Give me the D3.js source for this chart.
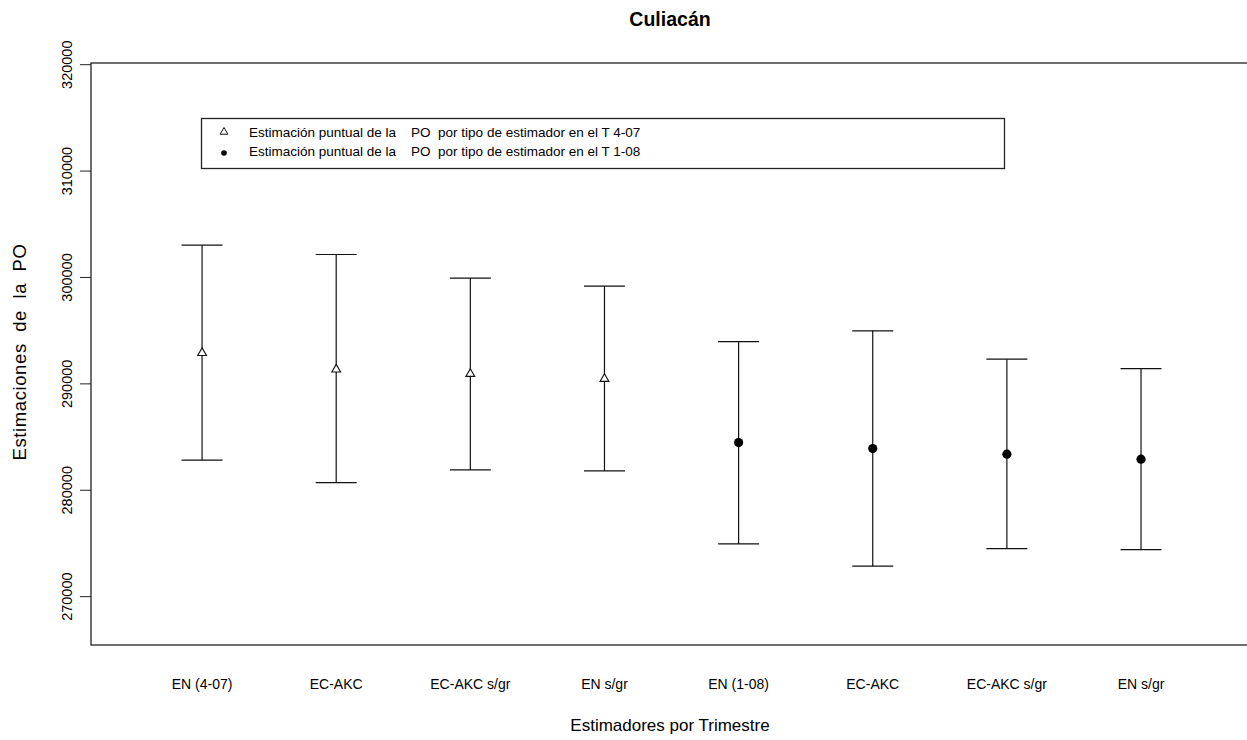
<!DOCTYPE html>
<html>
<head>
<meta charset="utf-8">
<script src="https://cdn.jsdelivr.net/npm/d3@7"></script>
<style>
  body { margin: 0; background: #fff; }
  svg { display: block; }
  text { font-family: "Liberation Sans", Arial, sans-serif; fill: #000; }
  .narrow { font-family: "Liberation Sans Narrow", "Arial Narrow", "Liberation Sans", sans-serif; }
</style>
</head>
<body>
<div id="chart"></div>
<script>
// estimators per quarter
var categories = ['EN (4-07)', 'EC-AKC', 'EC-AKC s/gr', 'EN s/gr', 'EN (1-08)', 'EC-AKC', 'EC-AKC s/gr', 'EN s/gr'];
var quarter = ['4-07', '4-07', '4-07', '4-07', '1-08', '1-08', '1-08', '1-08'];
var estimate = [292950, 291400, 290990, 290520, 284480, 283920, 283390, 282920];
var upper = [303040, 302160, 299940, 299190, 293980, 294990, 292320, 291440];
var lower = [282830, 280720, 281910, 281820, 274960, 272860, 274510, 274420];
var yTicks = [270000, 280000, 290000, 300000, 310000, 320000];
var legendLabels = ['Estimación puntual de la    PO  por tipo de estimador en el T 4-07',
                    'Estimación puntual de la    PO  por tipo de estimador en el T 1-08'];

var W = 1247, H = 740;
var plotL = 91, plotR = 1249, plotT = 63, plotB = 645;

var svg = d3.select('#chart').append('svg')
    .attr('width', W)
    .attr('height', H);

var x = d3.scaleLinear().domain([-0.828, 7.805]).range([plotL, plotR]);
var y = d3.scaleLinear().domain([265455, 320160]).range([plotB, plotT]);

var data = categories.map(function(c, i) {
    return {cat: c, q: quarter[i], est: estimate[i], hi: upper[i], lo: lower[i], i: i};
});

// box
svg.append('rect')
    .attr('x', plotL).attr('y', plotT)
    .attr('width', plotR - plotL).attr('height', plotB - plotT)
    .attr('fill', 'none').attr('stroke', '#222').attr('stroke-width', 1.3);

// y axis
var yAxis = d3.axisLeft(y).tickValues(yTicks).tickSize(11).tickFormat(d3.format('d'));
var ya = svg.append('g').attr('transform', 'translate(' + plotL + ',0)').call(yAxis);
ya.select('.domain').remove();
ya.selectAll('line').attr('stroke', '#222');
ya.selectAll('.tick').attr('transform', null);
ya.selectAll('.tick line').attr('y1', function(d) { return y(d); }).attr('y2', function(d) { return y(d); });
ya.selectAll('text')
    .attr('font-size', 14.5)
    .attr('fill', '#222')
    .attr('transform', function(d) { return 'translate(-24,' + y(d) + ') rotate(-90)'; })
    .attr('x', 0).attr('y', 0).attr('dy', '0.35em')
    .attr('text-anchor', 'middle');

// x labels (no ticks)
svg.selectAll('.xlab').data(data).enter().append('text')
    .attr('class', 'xlab narrow')
    .attr('x', function(d) { return x(d.i); })
    .attr('y', 689)
    .attr('text-anchor', 'middle')
    .attr('font-size', 14)
    .text(function(d) { return d.cat; });

// error bars
var bars = svg.append('g').selectAll('g').data(data).enter().append('g');
bars.append('line')
    .attr('x1', function(d) { return x(d.i); }).attr('x2', function(d) { return x(d.i); })
    .attr('y1', function(d) { return y(d.hi); }).attr('y2', function(d) { return y(d.lo); })
    .attr('stroke', '#111').attr('stroke-width', 1.2);
['hi', 'lo'].forEach(function(k) {
    bars.append('line')
        .attr('x1', function(d) { return x(d.i) - 20.5; }).attr('x2', function(d) { return x(d.i) + 20.5; })
        .attr('y1', function(d) { return y(d[k]); }).attr('y2', function(d) { return y(d[k]); })
        .attr('stroke', '#111').attr('stroke-width', 1.2);
});

var tri = d3.symbol().type(d3.symbolTriangle).size(34);
bars.filter(function(d) { return d.q == '4-07'; }).append('path')
    .attr('d', tri)
    .attr('transform', function(d) { return 'translate(' + x(d.i) + ',' + (y(d.est) + 0.5) + ')'; })
    .attr('fill', '#fff').attr('stroke', '#111').attr('stroke-width', 1.1);
bars.filter(function(d) { return d.q == '1-08'; }).append('circle')
    .attr('cx', function(d) { return x(d.i); })
    .attr('cy', function(d) { return y(d.est); })
    .attr('r', 4.6)
    .attr('fill', '#000');

// legend
var lg = svg.append('g');
lg.append('rect')
    .attr('x', 201.5).attr('y', 118.5).attr('width', 803).attr('height', 50)
    .attr('fill', '#fff').attr('stroke', '#222').attr('stroke-width', 1.3);
lg.append('path')
    .attr('d', d3.symbol().type(d3.symbolTriangle).size(26))
    .attr('transform', 'translate(224,132)')
    .attr('fill', '#fff').attr('stroke', '#111').attr('stroke-width', 1);
lg.append('circle').attr('cx', 224).attr('cy', 153).attr('r', 2.8).attr('fill', '#000');
lg.selectAll('.ltxt').data(legendLabels).enter().append('text')
    .attr('class', 'ltxt narrow')
    .attr('x', 249)
    .attr('y', function(d, i) { return 137 + i * 19; })
    .attr('font-size', 13.5)
    .style('white-space', 'pre')
    .text(function(d) { return d; });

// titles
svg.append('text')
    .attr('x', 670).attr('y', 26)
    .attr('text-anchor', 'middle')
    .attr('font-size', 19.5).attr('font-weight', 'bold')
    .text('Culiacán');
svg.append('text')
    .attr('x', 670).attr('y', 731)
    .attr('text-anchor', 'middle')
    .attr('font-size', 17)
    .text('Estimadores por Trimestre');
svg.append('text')
    .attr('transform', 'translate(26,352) rotate(-90)')
    .attr('text-anchor', 'middle')
    .attr('font-size', 18.5)
    .style('letter-spacing', '0.6px')
    .style('white-space', 'pre')
    .text('Estimaciones  de  la  PO');
</script>
</body>
</html>
